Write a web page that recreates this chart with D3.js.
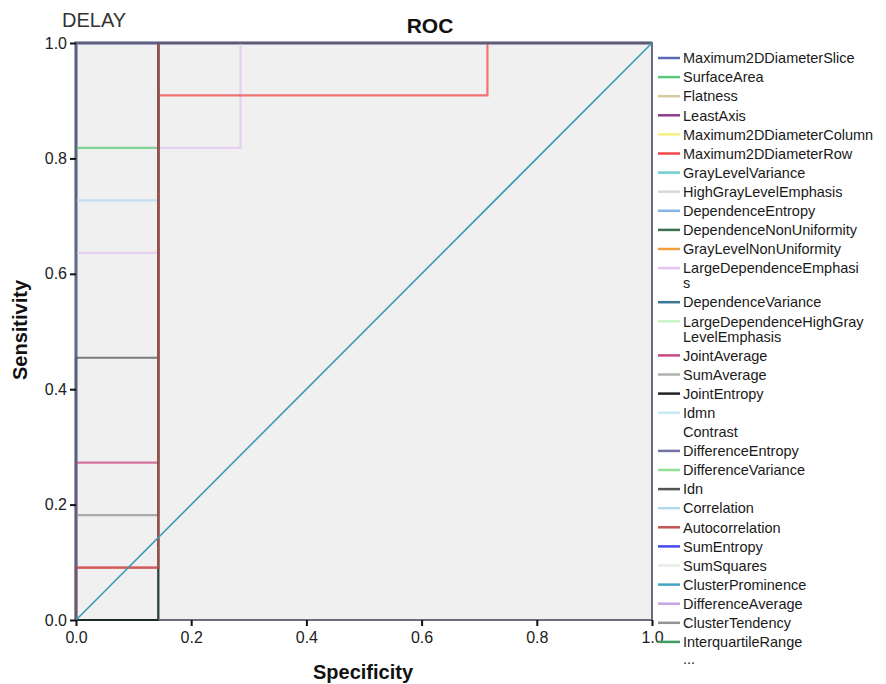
<!DOCTYPE html>
<html>
<head>
<meta charset="utf-8">
<script src="https://cdn.jsdelivr.net/npm/d3@7"></script>
<style>
  body { margin: 0; background: #fff; }
  svg { font-family: "Liberation Sans", Arial, sans-serif; }
</style>
</head>
<body>
<svg id="chart" width="886" height="684"></svg>
<script>
// legend entries (SPSS style, truncated with "...")
const legendLabels = [
  "Maximum2DDiameterSlice", "SurfaceArea", "Flatness", "LeastAxis",
  "Maximum2DDiameterColumn", "Maximum2DDiameterRow", "GrayLevelVariance",
  "HighGrayLevelEmphasis", "DependenceEntropy", "DependenceNonUniformity",
  "GrayLevelNonUniformity", "LargeDependenceEmphasi\ns", "DependenceVariance",
  "LargeDependenceHighGray\nLevelEmphasis", "JointAverage", "SumAverage",
  "JointEntropy", "Idmn", "Contrast", "DifferenceEntropy", "DifferenceVariance",
  "Idn", "Correlation", "Autocorrelation", "SumEntropy", "SumSquares",
  "ClusterProminence", "DifferenceAverage", "ClusterTendency", "InterquartileRange"
];
const legendColors = [
  "#5a6ab4", "#5cc87a", "#d4cca0", "#8c3c8c",
  "#f8f080", "#f04848", "#70d0d0",
  "#d8d8d8", "#84b4e4", "#3c7050",
  "#f0a040", "#e4c4f4", "#3c7494",
  "#c8f4c8", "#c84884", "#b0b0b0",
  "#222222", "#c4eaf2", "#ffffff", "#7474a4", "#94e094",
  "#545454", "#b4d8f0", "#c45454", "#4848f0", "#eaeaea",
  "#44a4c4", "#c4a4e4", "#949494", "#3c9c64"
];

// ROC curves [1 - specificity, sensitivity]
const rocPerfect = [[0, 0], [0, 1], [1, 1]];
const rocJointEntropy = [[0, 0], [1/7, 0], [1/7, 1], [1, 1]];
const rocMax2DRow = [[0, 0], [0, 1/11], [1/7, 1/11], [1/7, 10/11], [5/7, 10/11], [5/7, 1], [1, 1]];
const rocAutocorrelation = [[0, 0], [0, 1/11], [1/7, 1/11], [1/7, 1], [1, 1]];
const rocClusterTendency = [[0, 0], [0, 2/11], [1/7, 2/11], [1/7, 1], [1, 1]];
const rocJointAverage = [[0, 0], [0, 3/11], [1/7, 3/11], [1/7, 1], [1, 1]];
const rocIdn = [[0, 0], [0, 5/11], [1/7, 5/11], [1/7, 1], [1, 1]];
const rocLargeDepEmphasis = [[0, 0], [0, 7/11], [1/7, 7/11], [1/7, 9/11], [2/7, 9/11], [2/7, 1], [1, 1]];
const rocCorrelation = [[0, 0], [0, 8/11], [1/7, 8/11], [1/7, 1], [1, 1]];
const rocSurfaceArea = [[0, 0], [0, 9/11], [1/7, 9/11], [1/7, 1], [1, 1]];
const referenceLine = [[0, 0], [1, 1]];

// which series draws which curve (in drawing order)
const curveSeries = [
  "Maximum2DDiameterSlice", "DifferenceEntropy",
  "SurfaceArea", "Correlation", "LargeDependenceEmphasi\ns", "Idn",
  "JointAverage", "ClusterTendency", "Maximum2DDiameterRow",
  "InterquartileRange", "JointEntropy", "Autocorrelation"
];
const curvePoints = [
  rocPerfect, rocPerfect,
  rocSurfaceArea, rocCorrelation, rocLargeDepEmphasis, rocIdn,
  rocJointAverage, rocClusterTendency, rocMax2DRow,
  rocJointEntropy, rocJointEntropy, rocAutocorrelation
];

const axisTicks = [0, 0.2, 0.4, 0.6, 0.8, 1.0];

const svg = d3.select("#chart");
const margin = { top: 43, left: 76 };
const width = 576, height = 577;

const x = d3.scaleLinear().domain([0, 1]).range([0, width]);
const y = d3.scaleLinear().domain([0, 1]).range([height, 0]);

const g = svg.append("g")
    .attr("transform", `translate(${margin.left},${margin.top})`);

// plot background
g.append("rect")
    .attr("width", width)
    .attr("height", height)
    .attr("fill", "#f0f0f0");

const colorOf = name => legendColors[legendLabels.indexOf(name)];

const line = d3.line()
    .x(d => x(d[0]))
    .y(d => y(d[1]));

// curves
g.append("g")
    .attr("fill", "none")
    .attr("stroke-width", 2.2)
    .attr("stroke-opacity", 0.75)
  .selectAll("path")
  .data(curvePoints)
  .join("path")
    .attr("stroke", (d, i) => colorOf(curveSeries[i]))
    .attr("stroke-width", d => d === rocPerfect ? 3 : null)
    .attr("d", line);

// frame
g.append("rect")
    .attr("width", width)
    .attr("height", height)
    .attr("fill", "none")
    .attr("stroke", "#5c5e72")
    .attr("stroke-width", 1.8);

// bottom segment of the lowest curve sits on top of the frame
g.append("path")
    .datum(rocJointEntropy.slice(0, 2))
    .attr("fill", "none")
    .attr("stroke", "#1c2a22")
    .attr("stroke-width", 2)
    .attr("d", line);

// diagonal reference line
g.append("path")
    .datum(referenceLine)
    .attr("fill", "none")
    .attr("stroke", "#3a9ab8")
    .attr("stroke-width", 1.6)
    .attr("d", line);

// axes
const fmt = d3.format(".1f");
const xAxis = g.append("g")
    .attr("transform", `translate(0,${height})`)
    .call(d3.axisBottom(x).tickValues(axisTicks).tickFormat(fmt).tickSize(6).tickPadding(6));
const yAxis = g.append("g")
    .call(d3.axisLeft(y).tickValues(axisTicks).tickFormat(fmt).tickSize(6).tickPadding(3));

[xAxis, yAxis].forEach(a => {
  a.select(".domain").remove();
  a.selectAll(".tick line").attr("stroke", "#111").attr("stroke-width", 2);
  a.selectAll(".tick text")
      .attr("font-family", "Liberation Sans, Arial, sans-serif")
      .attr("font-size", 16)
      .attr("fill", "#222");
});

// titles
svg.append("text")
    .attr("x", 62)
    .attr("y", 27)
    .attr("font-size", 20)
    .attr("fill", "#333")
    .text("DELAY");

svg.append("text")
    .attr("x", 430)
    .attr("y", 33)
    .attr("text-anchor", "middle")
    .attr("font-size", 21)
    .attr("font-weight", "bold")
    .attr("fill", "#111")
    .text("ROC");

svg.append("text")
    .attr("x", 363)
    .attr("y", 679)
    .attr("text-anchor", "middle")
    .attr("font-size", 20)
    .attr("font-weight", "bold")
    .attr("fill", "#111")
    .text("Specificity");

svg.append("text")
    .attr("transform", "rotate(-90)")
    .attr("x", -330)
    .attr("y", 27)
    .attr("text-anchor", "middle")
    .attr("font-size", 20)
    .attr("font-weight", "bold")
    .attr("fill", "#111")
    .text("Sensitivity");

// legend
const legend = svg.append("g");
let ly = 58;
legendLabels.forEach((label, i) => {
  const lines = label.split("\n");
  legend.append("line")
      .attr("x1", 658).attr("x2", 680)
      .attr("y1", ly).attr("y2", ly)
      .attr("stroke", legendColors[i])
      .attr("stroke-width", 2.5);
  const t = legend.append("text")
      .attr("x", 683)
      .attr("y", ly)
      .attr("font-size", 14.5)
      .attr("fill", "#1a1a1a");
  lines.forEach((s, j) => {
    t.append("tspan").attr("x", 683).attr("dy", j === 0 ? "0.36em" : 15).text(s);
  });
  ly += 15 * (lines.length - 1) + 19.1;
});
legend.append("text")
    .attr("x", 683)
    .attr("y", ly - 2)
    .attr("dy", "0.36em")
    .attr("font-size", 14.5)
    .attr("fill", "#1a1a1a")
    .text("...");
</script>
</body>
</html>
